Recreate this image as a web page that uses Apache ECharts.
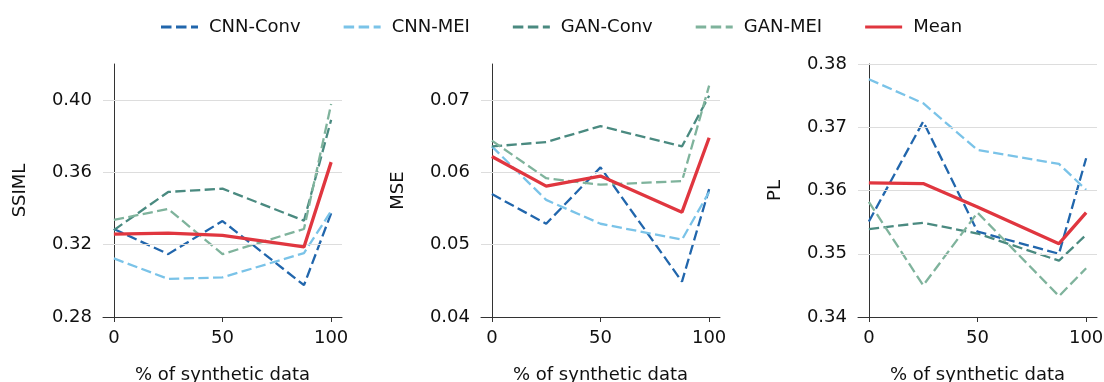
<!DOCTYPE html>
<html>
<head>
<meta charset="utf-8">
<script src="https://cdn.jsdelivr.net/npm/echarts@6/dist/echarts.min.js"></script>
<style>
html,body{margin:0;padding:0;background:#fff;}
#c{width:1104px;height:382px;}
</style>
</head>
<body>
<div id="c"></div>
<script>
const xValues = [0, 25, 50, 87.5, 100];
const seriesNames = ['CNN-Conv', 'CNN-MEI', 'GAN-Conv', 'GAN-MEI', 'Mean'];

const ssimlCnnConv = [0.3287, 0.3148, 0.3331, 0.2976, 0.3374];
const ssimlCnnMei  = [0.3124, 0.3011, 0.3019, 0.3154, 0.3386];
const ssimlGanConv = [0.3281, 0.3492, 0.3510, 0.3333, 0.3891];
const ssimlGanMei  = [0.3337, 0.3398, 0.3148, 0.3287, 0.3978];
const ssimlMean    = [0.3259, 0.3264, 0.3252, 0.3188, 0.3657];

const mseCnnConv = [0.0570, 0.0529, 0.0607, 0.0449, 0.0577];
const mseCnnMei  = [0.0636, 0.0562, 0.0529, 0.0507, 0.0573];
const mseGanConv = [0.0636, 0.0642, 0.0664, 0.0636, 0.0706];
const mseGanMei  = [0.0644, 0.0592, 0.0583, 0.0588, 0.0720];
const mseMean    = [0.0622, 0.0581, 0.0595, 0.0545, 0.0648];

const plCnnConv = [0.3551, 0.3709, 0.3535, 0.3500, 0.3651];
const plCnnMei  = [0.3776, 0.3738, 0.3664, 0.3642, 0.3601];
const plGanConv = [0.3539, 0.3549, 0.3532, 0.3489, 0.3530];
const plGanMei  = [0.3582, 0.3450, 0.3565, 0.3433, 0.3477];
const plMean    = [0.3612, 0.3611, 0.3574, 0.3516, 0.3565];

const xTicks = [0, 50, 100];
const ssimlTicks = [0.28, 0.32, 0.36, 0.40];
const mseTicks = [0.04, 0.05, 0.06, 0.07];
const plTicks = [0.34, 0.35, 0.36, 0.37, 0.38];

const panels = [
  {name: 'SSIML', min: 0.28, max: 0.42, ticks: ssimlTicks, data: [ssimlCnnConv, ssimlCnnMei, ssimlGanConv, ssimlGanMei, ssimlMean]},
  {name: 'MSE', min: 0.04, max: 0.075, ticks: mseTicks, data: [mseCnnConv, mseCnnMei, mseGanConv, mseGanMei, mseMean]},
  {name: 'PL', min: 0.34, max: 0.38, ticks: plTicks, data: [plCnnConv, plCnnMei, plGanConv, plGanMei, plMean]}
];

const colors = ['#2166ac', '#7ac3e8', '#4a8a80', '#7fb39c', '#e0363f'];
const gridLefts = [103, 481, 858];
const FONT = 'DejaVu Sans';
const FS = 18;
const dashIcon = 'path://M0,0h10.5v3h-10.5z M15,0h10.5v3h-10.5z M30,0h7v3h-7z';
const solidIcon = 'path://M0,0h37v3h-37z';

const grids = [], xAxes = [], yAxes = [], series = [];
panels.forEach((p, i) => {
  grids.push({left: gridLefts[i], top: 64, width: 239, height: 253, containLabel: false, outerBoundsMode: 'none'});
  xAxes.push({
    type: 'value', gridIndex: i, min: -5, max: 105,
    name: '% of synthetic data', nameLocation: 'middle', nameGap: 49,
    nameTextStyle: {fontFamily: FONT, fontSize: FS, color: '#111'},
    axisLine: {show: true, onZero: false, lineStyle: {color: '#333', width: 1}},
    axisTick: {show: true, length: 5, customValues: xTicks, lineStyle: {color: '#333'}},
    axisLabel: {customValues: xTicks, fontFamily: FONT, fontSize: FS, color: '#111', margin: 12},
    splitLine: {show: false}
  });
  yAxes.push({
    type: 'value', gridIndex: i, min: p.min, max: p.max,
    name: p.name, nameLocation: 'middle', nameGap: 74, nameRotate: 90,
    nameTextStyle: {fontFamily: FONT, fontSize: FS, color: '#111'},
    axisLine: {show: true, lineStyle: {color: '#333', width: 1}},
    axisTick: {show: true, length: 5, customValues: p.ticks, lineStyle: {color: '#333'}},
    axisLabel: {customValues: p.ticks, fontFamily: FONT, fontSize: FS, color: '#111', margin: 11,
      formatter: v => v.toFixed(2)},
    splitLine: {show: false}
  });
  p.data.forEach((arr, k) => {
    const isMean = k === 4;
    series.push({
      name: seriesNames[k], type: 'line', xAxisIndex: i, yAxisIndex: i,
      data: xValues.map((x, j) => [x, arr[j]]),
      showSymbol: false, symbol: 'none', z: isMean ? 5 : 3,
      lineStyle: {color: colors[k], width: isMean ? 3.3 : 2.3, type: isMean ? 'solid' : [10.3, 4.4], cap: 'butt'},
      itemStyle: {color: colors[k]}
    });
  });
  series.push({
    type: 'line', xAxisIndex: i, yAxisIndex: i, data: [], silent: true,
    markLine: {symbol: 'none', silent: true, label: {show: false}, animation: false,
      lineStyle: {color: '#dddddd', width: 1, type: 'solid'},
      data: p.ticks.filter(t => t > p.min + 1e-9).map(t => ({yAxis: t}))},
    z: 1
  });
});

const chart = echarts.init(document.getElementById('c'), null, {renderer: 'canvas'});
chart.setOption({
  animation: false,
  color: colors,
  legend: {
    data: seriesNames.map((n, k) => ({name: n, icon: k === 4 ? solidIcon : dashIcon, itemStyle: {color: colors[k]}})),
    left: 156, top: 13, itemWidth: 37, itemHeight: 3, itemGap: 43,
    textStyle: {fontFamily: FONT, fontSize: FS, color: '#111', padding: [0, 0, 0, 6]}
  },
  grid: grids, xAxis: xAxes, yAxis: yAxes, series: series
});
</script>
</body>
</html>
